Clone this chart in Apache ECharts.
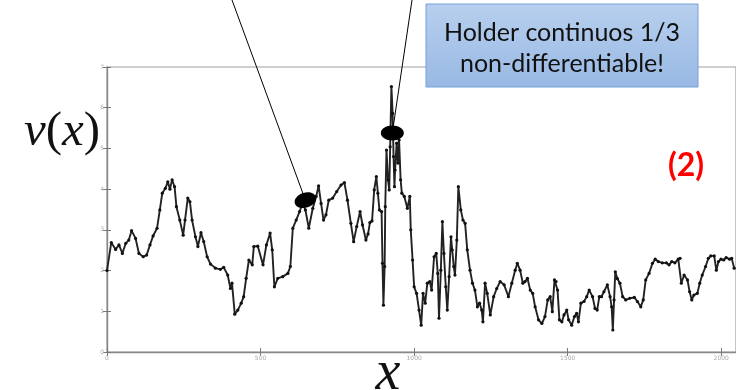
<!DOCTYPE html>
<html>
<head>
<meta charset="utf-8">
<script src="https://cdn.jsdelivr.net/npm/echarts@6/dist/echarts.min.js"></script>
<style>
  html, body { margin: 0; padding: 0; background: #ffffff; }
  #chart { width: 736px; height: 390px; }
</style>
</head>
<body>
<div id="chart"></div>
<script>
// Sample positions along x and the velocity profile v(x) at those positions
const xs = [0,14,28,39,50,61,71,80,93,104,118,129,140,150,163,172,180,190,198,205,212,220,226,237,248,254,263,270,277,288,296,306,315,326,337,353,369,380,393,402,407,416,426,437,445,453,462,473,478,491,508,519,531,538,545,556,572,589,597,605,616,627,637,646,657,670,681,689,697,705,713,722,735,748,762,773,783,794,803,813,824,832,843,850,856,863,870,877,882,887,894,897,900,904,906,910,915,919,922,926,930,933,936,938,943,947,951,956,960,968,978,986,989,995,1000,1008,1016,1023,1029,1036,1043,1051,1057,1065,1072,1077,1081,1087,1092,1097,1103,1108,1114,1120,1124,1129,1133,1139,1144,1152,1159,1166,1173,1182,1190,1198,1206,1213,1220,1224,1231,1238,1248,1259,1269,1280,1293,1307,1318,1329,1336,1345,1354,1361,1369,1378,1386,1394,1405,1416,1426,1435,1443,1450,1457,1462,1467,1473,1481,1488,1497,1503,1513,1522,1529,1535,1543,1553,1562,1570,1581,1589,1596,1603,1610,1618,1629,1638,1643,1647,1651,1655,1662,1670,1679,1689,1702,1717,1727,1738,1746,1754,1765,1776,1785,1795,1808,1821,1830,1839,1849,1860,1866,1870,1879,1890,1897,1904,1911,1922,1930,1938,1949,1958,1966,1977,1984,1991,1999,2008,2016,2027,2034,2042];
const vs = [2.00,2.69,2.52,2.63,2.42,2.67,2.75,2.98,2.79,2.42,2.34,2.38,2.63,2.85,3.04,3.49,3.90,4.02,4.18,4.00,4.23,4.06,3.57,3.24,2.87,3.24,3.78,3.69,3.24,2.83,2.59,2.93,2.71,2.34,2.16,2.06,2.03,2.08,1.89,1.56,1.69,0.93,1.03,1.20,1.36,1.81,2.26,2.14,2.59,2.60,2.14,2.63,2.92,2.51,1.60,1.81,1.85,1.93,2.10,3.04,3.24,3.45,3.65,3.49,3.04,3.53,3.82,4.08,3.65,3.24,3.37,3.73,3.78,3.94,4.10,4.16,3.73,3.16,2.71,3.08,3.45,3.12,2.75,2.90,3.18,3.22,3.98,4.31,3.90,3.49,3.45,2.18,1.15,2.10,3.57,4.96,4.23,3.98,5.04,6.52,5.86,4.80,4.06,4.47,5.13,4.64,5.21,4.23,3.90,3.82,3.53,3.82,3.00,2.26,1.60,1.44,1.03,0.66,1.44,1.20,1.69,1.73,1.52,2.34,2.42,1.93,0.83,2.01,3.20,2.42,1.60,1.03,1.85,2.83,2.51,2.10,1.89,2.75,4.06,3.49,3.24,3.16,2.51,2.01,1.69,1.52,1.11,1.20,1.03,0.74,1.69,1.44,0.91,1.36,1.56,1.73,1.65,1.36,1.69,2.01,2.18,2.01,1.69,1.73,1.81,1.52,1.44,1.11,0.79,0.70,0.87,1.28,1.36,0.99,1.77,1.73,1.52,0.79,0.74,0.91,1.03,0.79,0.66,0.87,0.95,0.74,1.20,1.24,1.36,1.52,1.36,1.07,1.03,1.36,1.36,1.48,1.65,1.36,1.11,0.54,1.28,1.97,1.80,1.69,1.36,1.28,1.32,1.34,1.24,1.11,1.28,1.77,1.93,2.18,2.28,2.22,2.19,2.19,2.14,2.22,2.19,2.28,2.30,1.69,1.89,1.77,1.48,1.28,1.40,1.44,1.69,1.89,2.10,2.30,2.36,2.36,2.01,2.22,2.28,2.26,2.32,2.28,2.30,2.06];

// Axis ranges and tick steps
const xRange = [0, 2048];
const xStep = 500;
const yRange = [0, 7];
const yStep = 1;

// Annotation text
const boxLines = ['Holder continuos 1/3', 'non-differentiable!'];
const tagText = '(2)';
// Points on the curve picked out by the two pointer lines
const markA = [646, 3.73];
const markB = [929, 5.38];

const series = xs.map((x, i) => [x, vs[i]]);

const chart = echarts.init(document.getElementById('chart'), null, { renderer: 'canvas' });

const frame = '#a0a0a0';
const tickLabel = { color: '#aaaaaa', fontSize: 6, fontFamily: 'DejaVu Sans', formatter: v => String(v) };

chart.setOption({
  animation: false,
  backgroundColor: '#ffffff',
  grid: { left: 107, top: 67, width: 631, height: 285, show: true, borderColor: frame, borderWidth: 1.2, backgroundColor: 'transparent' },
  xAxis: [
    {
      type: 'value', min: xRange[0], max: xRange[1], interval: xStep,
      axisLine: { show: true, lineStyle: { color: '#888', width: 1.4 } },
      axisTick: { show: true, inside: true, length: 4, lineStyle: { color: '#777' } },
      axisLabel: Object.assign({ margin: 3, showMaxLabel: false }, tickLabel),
      splitLine: { show: false }
    },
    {
      type: 'value', position: 'top', min: xRange[0], max: xRange[1], interval: xStep,
      axisLine: { show: false },
      axisTick: { show: true, inside: true, length: 4, lineStyle: { color: '#777' } },
      axisLabel: { show: false },
      splitLine: { show: false }
    }
  ],
  yAxis: [
    {
      type: 'value', min: yRange[0], max: yRange[1], interval: yStep,
      axisLine: { show: true, lineStyle: { color: '#888', width: 1.4 } },
      axisTick: { show: true, inside: true, length: 4, lineStyle: { color: '#777' } },
      axisLabel: Object.assign({ margin: 3 }, tickLabel),
      splitLine: { show: false }
    },
    {
      type: 'value', position: 'right', min: yRange[0], max: yRange[1], interval: yStep,
      axisLine: { show: false },
      axisTick: { show: true, inside: true, length: 4, lineStyle: { color: '#777' } },
      axisLabel: { show: false },
      splitLine: { show: false }
    }
  ],
  series: [{
    type: 'line',
    data: series,
    xAxisIndex: 0,
    yAxisIndex: 0,
    showSymbol: true,
    showAllSymbol: true,
    symbol: 'circle',
    symbolSize: 3.2,
    itemStyle: { color: '#111', borderWidth: 0 },
    sampling: null,
    lineStyle: { color: '#222', width: 1.9 },
    z: 3
  }]
});

const pA = chart.convertToPixel({ gridIndex: 0 }, markA);
const pB = chart.convertToPixel({ gridIndex: 0 }, markB);

chart.setOption({
  graphic: [
    // axis titles
    {
      type: 'text', left: 24, top: 108, z: 50,
      style: {
        text: '{i|v}{u|(}{i|x}{u|)}',
        rich: {
          i: { fontFamily: 'Liberation Serif', fontStyle: 'italic', fontSize: 49, fill: '#111' },
          u: { fontFamily: 'Liberation Serif', fontSize: 49, fill: '#111' }
        }
      }
    },
    {
      type: 'text', x: 388, y: 374, z: 50,
      style: { text: 'x', fontFamily: 'Liberation Serif', fontStyle: 'italic', fontSize: 56, fill: '#111', align: 'center', verticalAlign: 'middle' }
    },
    // pointer lines and markers
    { type: 'line', z: 60, shape: { x1: 232, y1: 0, x2: pA[0], y2: pA[1] }, style: { stroke: '#000', lineWidth: 1 } },
    { type: 'line', z: 60, shape: { x1: 412, y1: 0, x2: pB[0], y2: pB[1] }, style: { stroke: '#000', lineWidth: 1 } },
    { type: 'ellipse', z: 61, x: pA[0], y: pA[1], rotation: 0.3, shape: { cx: 0, cy: 0, rx: 11, ry: 7.5 }, style: { fill: '#000' } },
    { type: 'ellipse', z: 61, x: pB[0], y: pB[1], shape: { cx: 0, cy: 0, rx: 11.5, ry: 7.5 }, style: { fill: '#000' } },
    // callout box
    {
      type: 'rect', z: 70, shape: { x: 426, y: 4, width: 272, height: 83 },
      style: {
        fill: { type: 'linear', x: 0, y: 0, x2: 0, y2: 1, colorStops: [{ offset: 0, color: '#b8d0ef' }, { offset: 1, color: '#98b8e3' }] },
        stroke: '#74a0d8', lineWidth: 1
      }
    },
    {
      type: 'text', z: 71, x: 562, y: 48,
      style: { text: boxLines.join('\n'), fontFamily: 'Lato', fontSize: 25, lineHeight: 31, fill: '#111', align: 'center', verticalAlign: 'middle' }
    },
    {
      type: 'text', z: 71, x: 686, y: 166,
      style: { text: tagText, fontFamily: 'Lato', fontWeight: 'bold', fontSize: 32, fill: '#ff0000', align: 'center', verticalAlign: 'middle' }
    }
  ]
});
</script>
</body>
</html>
